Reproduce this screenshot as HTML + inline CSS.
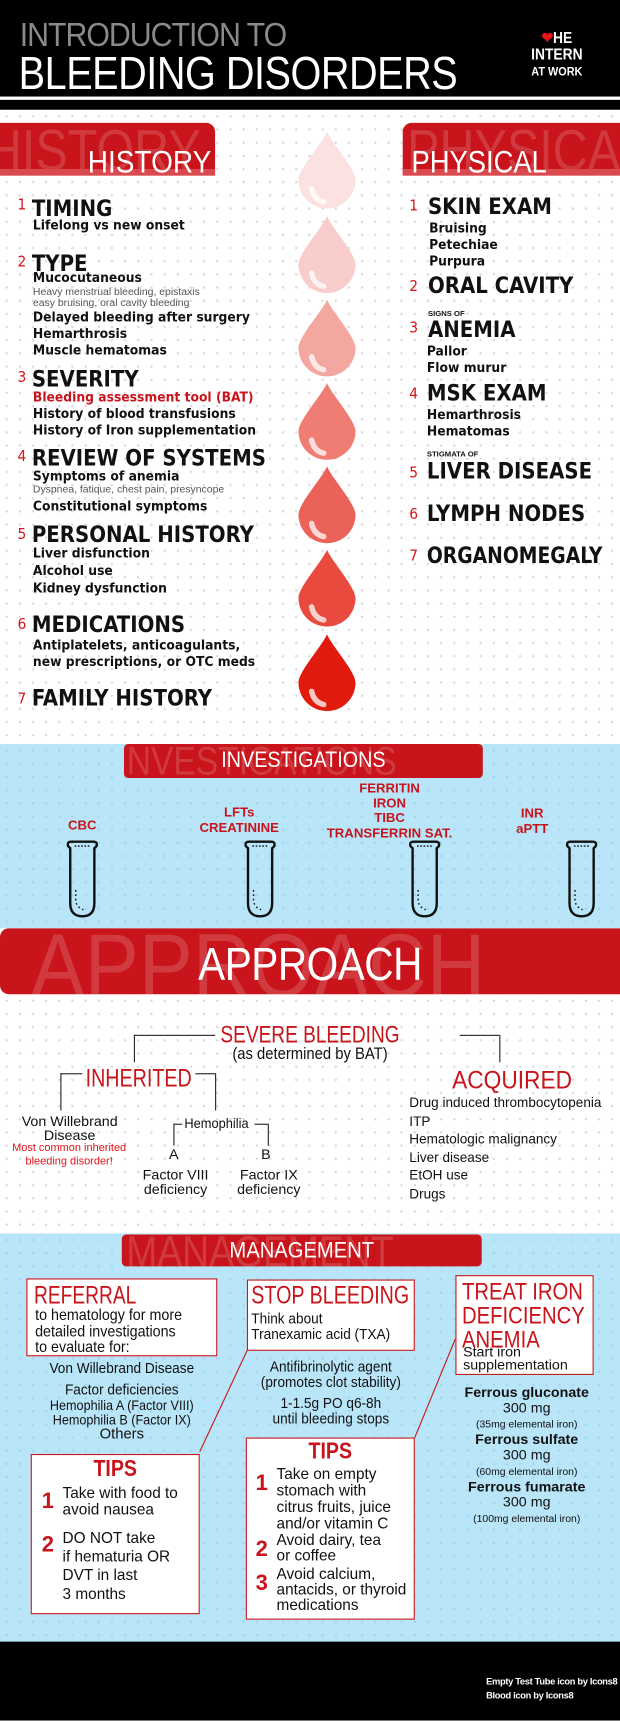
<!DOCTYPE html>
<html><head><meta charset="utf-8">
<style>
html,body{margin:0;padding:0;width:620px;height:1720px;overflow:hidden;background:#fff}
#w{position:absolute;left:0;top:0;width:565px;height:1568px;transform:scale(1.09735);transform-origin:0 0;overflow:hidden;font-family:"Liberation Sans Narrow","Liberation Sans",sans-serif}
.t{position:absolute;white-space:nowrap;line-height:1}
.h{font-family:"DejaVu Sans Condensed","DejaVu Sans",sans-serif;font-weight:bold;color:#111}
.s{font-family:"DejaVu Sans Condensed","DejaVu Sans",sans-serif;font-weight:bold;color:#111;font-size:12.5px}
.n{color:#d7141a;font-family:"DejaVu Sans Condensed","DejaVu Sans",sans-serif;font-size:14px}
.red{color:#c8141a}
.box{position:absolute;background:#fff;border:1.5px solid #c8141a;box-sizing:border-box}
.ln{position:absolute;background:#222}
.dots{position:absolute;background-image:radial-gradient(circle,#dcdcdc 1px,transparent 1.3px);background-size:12px 12px}
.bdots{position:absolute;background:#b9e5f8;background-image:radial-gradient(circle,#a3d6ee 1px,transparent 1.3px);background-size:12px 12px}
.tab{position:absolute;background:#c8141a;overflow:hidden}
.ghost{position:absolute;color:rgba(255,255,255,.16);white-space:nowrap;line-height:1}
</style></head><body><div id="w">
<!-- header -->
<div style="position:absolute;left:0;top:0;width:565px;height:100px;background:#000"></div>
<div style="position:absolute;left:0;top:88px;width:565px;height:2.5px;background:#fff"></div>
<div class="t" style="left:18px;top:18px;font-size:30px;color:#8a8a8a;letter-spacing:-1px;transform:scaleX(.92);transform-origin:0 0">INTRODUCTION TO</div>
<div class="t" style="left:17px;top:46px;font-size:42px;color:#fff;letter-spacing:-0.5px;transform:scaleX(.86);transform-origin:0 0">BLEEDING DISORDERS</div>
<div class="t" style="left:484px;top:27px;font-size:14px;color:#fff;font-weight:bold;line-height:15px;text-align:center;transform:scaleX(.9);transform-origin:0 0">
<span style="color:#e8121a">&#10084;</span>HE<br>INTERN<br><span style="font-size:11px">AT WORK</span></div>

<div class="dots" style="left:0;top:100px;width:565px;height:578px"></div>
<!-- history/physical tabs -->
<div class="tab" style="left:0;top:112px;width:196px;height:48px;border-radius:0 8px 0 0">
<div class="ghost" style="left:-12px;top:0;font-size:52px;transform:scaleX(.85);transform-origin:0 0">HISTORY</div>
<div style="position:absolute;left:0;bottom:0;width:100%;height:6px;background:#d9494d"></div>
<div class="t" style="left:80px;top:22px;font-size:29px;color:#fff;transform:scaleX(.88);transform-origin:0 0">HISTORY</div></div>
<div class="tab" style="left:367px;top:112px;width:210px;height:48px;border-radius:8px 0 0 0">
<div class="ghost" style="left:4px;top:0;font-size:52px;transform:scaleX(.85);transform-origin:0 0">PHYSICAL</div>
<div style="position:absolute;left:0;bottom:0;width:100%;height:6px;background:#d9494d"></div>
<div class="t" style="left:8px;top:22px;font-size:29px;color:#fff;transform:scaleX(.86);transform-origin:0 0">PHYSICAL</div></div>

<!-- drops -->
<svg style="position:absolute;left:272px;top:120px" width="52" height="540" viewBox="0 0 52 540">
<defs><path id="d" d="M26 0 C22 10 0 34 0 44 A26 26 0 0 0 52 44 C52 34 30 10 26 0Z"/>
<path id="hl" d="M12 52 Q14 62 23 64" fill="none" stroke="#fff" stroke-width="5" stroke-linecap="round" opacity=".75"/></defs>
<g><use href="#d" fill="#fbe1e0"/><use href="#hl"/></g>
<g transform="translate(0,77)"><use href="#d" fill="#f8cdcb"/><use href="#hl"/></g>
<g transform="translate(0,153)"><use href="#d" fill="#f4a6a1"/><use href="#hl"/></g>
<g transform="translate(0,229)"><use href="#d" fill="#f07d74"/><use href="#hl"/></g>
<g transform="translate(0,305)"><use href="#d" fill="#eb6259"/><use href="#hl"/></g>
<g transform="translate(0,381)"><use href="#d" fill="#e84a3e"/><use href="#hl"/></g>
<g transform="translate(0,458)"><use href="#d" fill="#e01a0c"/><use href="#hl"/></g>
</svg>

<!-- history list -->
<div class="t n" style="left:16px;top:180px">1</div><div class="t h" style="left:29px;top:180px;font-size:20px">TIMING</div>
<div class="t s" style="left:30px;top:199px">Lifelong vs new onset</div>
<div class="t n" style="left:16px;top:232px">2</div><div class="t h" style="left:29px;top:230px;font-size:20px">TYPE</div>
<div class="t s" style="left:30px;top:247px">Mucocutaneous</div>
<div class="t" style="left:30px;top:262px;font-size:9.5px;color:#555;line-height:10px">Heavy menstrual bleeding, epistaxis<br>easy bruising, oral cavity bleeding</div>
<div class="t s" style="left:30px;top:283px">Delayed bleeding after surgery</div>
<div class="t s" style="left:30px;top:298px">Hemarthrosis</div>
<div class="t s" style="left:30px;top:313px">Muscle hematomas</div>
<div class="t n" style="left:16px;top:337px">3</div><div class="t h" style="left:29px;top:335px;font-size:20px">SEVERITY</div>
<div class="t s" style="left:30px;top:356px;color:#c8141a">Bleeding assessment tool (BAT)</div>
<div class="t s" style="left:30px;top:371px">History of blood transfusions</div>
<div class="t s" style="left:30px;top:386px">History of Iron supplementation</div>
<div class="t n" style="left:16px;top:409px">4</div><div class="t h" style="left:29px;top:407px;font-size:20px">REVIEW OF SYSTEMS</div>
<div class="t s" style="left:30px;top:428px">Symptoms of anemia</div>
<div class="t" style="left:30px;top:442px;font-size:9.5px;color:#555">Dyspnea, fatique, chest pain, presyncope</div>
<div class="t s" style="left:30px;top:455px">Constitutional symptoms</div>
<div class="t n" style="left:16px;top:480px">5</div><div class="t h" style="left:29px;top:477px;font-size:20px">PERSONAL HISTORY</div>
<div class="t s" style="left:30px;top:498px">Liver disfunction</div>
<div class="t s" style="left:30px;top:514px">Alcohol use</div>
<div class="t s" style="left:30px;top:530px">Kidney dysfunction</div>
<div class="t n" style="left:16px;top:562px">6</div><div class="t h" style="left:29px;top:559px;font-size:20px">MEDICATIONS</div>
<div class="t s" style="left:30px;top:580px;line-height:15px">Antiplatelets, anticoagulants,<br>new prescriptions, or OTC meds</div>
<div class="t n" style="left:16px;top:630px">7</div><div class="t h" style="left:29px;top:626px;font-size:20px">FAMILY HISTORY</div>

<!-- physical list -->
<div class="t n" style="left:373px;top:181px">1</div><div class="t h" style="left:390px;top:178px;font-size:20px">SKIN EXAM</div>
<div class="t s" style="left:391px;top:200px;line-height:15px">Bruising<br>Petechiae<br>Purpura</div>
<div class="t n" style="left:373px;top:254px">2</div><div class="t h" style="left:390px;top:250px;font-size:20px">ORAL CAVITY</div>
<div class="t" style="left:390px;top:283px;font-size:7px;font-weight:bold;color:#111">SIGNS OF</div>
<div class="t n" style="left:373px;top:292px">3</div><div class="t h" style="left:390px;top:290px;font-size:20px">ANEMIA</div>
<div class="t s" style="left:389px;top:312px;line-height:15px">Pallor<br>Flow murur</div>
<div class="t n" style="left:373px;top:352px">4</div><div class="t h" style="left:389px;top:348px;font-size:20px">MSK EXAM</div>
<div class="t s" style="left:389px;top:370px;line-height:15px">Hemarthrosis<br>Hematomas</div>
<div class="t" style="left:389px;top:411px;font-size:7px;font-weight:bold;color:#111">STIGMATA OF</div>
<div class="t n" style="left:373px;top:424px">5</div><div class="t h" style="left:389px;top:419px;font-size:20px">LIVER DISEASE</div>
<div class="t n" style="left:373px;top:462px">6</div><div class="t h" style="left:389px;top:458px;font-size:20px">LYMPH NODES</div>
<div class="t n" style="left:373px;top:500px">7</div><div class="t h" style="left:389px;top:496px;font-size:20px;transform:scaleX(.95);transform-origin:0 0">ORGANOMEGALY</div>

<!-- investigations -->
<div class="bdots" style="left:0;top:678px;width:565px;height:168px"></div>
<div class="tab" style="left:113px;top:678px;width:327px;height:31px;border-radius:4px">
<div class="ghost" style="left:-6px;top:-2px;font-size:36px;transform:scaleX(.85);transform-origin:0 0">INVESTIGATIONS</div>
<div class="t" style="left:0;width:327px;text-align:center;top:5px;font-size:20px;color:#fff;transform:scaleX(.9)">INVESTIGATIONS</div></div>
<div class="t red" style="left:55px;top:746px;width:40px;text-align:center;font-weight:bold;font-size:12px">CBC</div>
<div class="t red" style="left:178px;top:733px;width:80px;text-align:center;font-weight:bold;font-size:12px;line-height:14px">LFTs<br>CREATININE</div>
<div class="t red" style="left:290px;top:712px;width:130px;text-align:center;font-weight:bold;font-size:12px;line-height:13.5px">FERRITIN<br>IRON<br>TIBC<br>TRANSFERRIN SAT.</div>
<div class="t red" style="left:455px;top:734px;width:60px;text-align:center;font-weight:bold;font-size:12px;line-height:14px">INR<br>aPTT</div>
<svg style="position:absolute;left:0;top:765px" width="565" height="80">
<defs><g id="tube" fill="none" stroke="#111" stroke-width="2.2"><path d="M1 6 Q0 2 4 2 L24 2 Q28 2 27 6 L25 8 L25 58 Q25 70 14 70 Q3 70 3 58 L3 8Z"/><path d="M8 46 L8 56 Q9 62 15 64" stroke-dasharray="1.5 2.5" stroke-width="1.3"/><path d="M7 6 L21 6" stroke-dasharray="1.5 1.5" stroke-width="1.3"/></g></defs>
<use href="#tube" x="61" y="0"/><use href="#tube" x="223" y="0"/><use href="#tube" x="373" y="0"/><use href="#tube" x="516" y="0"/></svg>

<!-- approach -->
<div class="tab" style="left:0;top:846px;width:565px;height:60px;border-radius:8px 0 0 8px">
<div class="ghost" style="left:28px;top:-6px;font-size:82px;color:rgba(255,255,255,.17);transform:scaleX(.9);transform-origin:0 0">APPROACH</div>
<div class="t" style="left:0;width:565px;text-align:center;top:12px;font-size:42px;color:#fff;letter-spacing:-0.5px;transform:scaleX(.88)">APPROACH</div></div>
<div class="dots" style="left:0;top:906px;width:565px;height:218px"></div>
<div class="t red" style="left:150px;width:265px;text-align:center;top:932px;font-size:22px;transform:scaleX(.79)">SEVERE BLEEDING</div>
<div class="t" style="left:150px;width:265px;text-align:center;top:953px;font-size:15px;color:#111;transform:scaleX(.9)">(as determined by BAT)</div>
<div class="ln" style="left:122px;top:943px;width:74px;height:1px"></div>
<div class="ln" style="left:122px;top:943px;width:1px;height:25px"></div>
<div class="ln" style="left:419px;top:943px;width:36px;height:1px"></div>
<div class="ln" style="left:455px;top:943px;width:1px;height:25px"></div>
<div class="t red" style="left:78px;top:971px;font-size:23px;transform:scaleX(.78);transform-origin:0 0">INHERITED</div>
<div class="ln" style="left:55px;top:978px;width:20px;height:1px"></div>
<div class="ln" style="left:55px;top:978px;width:1px;height:34px"></div>
<div class="ln" style="left:178px;top:978px;width:18px;height:1px"></div>
<div class="ln" style="left:196px;top:978px;width:1px;height:34px"></div>
<div class="t red" style="left:412px;top:973px;font-size:23px;transform:scaleX(.9);transform-origin:0 0">ACQUIRED</div>
<div class="t" style="left:16px;width:95px;text-align:center;top:1015px;font-size:13px;line-height:13px;color:#111">Von Willebrand<br>Disease</div>
<div class="t red" style="left:8px;width:110px;text-align:center;top:1041px;font-size:10px;line-height:12px;color:#e0141a">Most common inherited<br>bleeding disorder!</div>
<div class="t" style="left:168px;top:1017px;font-size:13px;color:#111;transform:scaleX(.9);transform-origin:0 0">Hemophilia</div>
<div class="ln" style="left:158px;top:1024px;width:8px;height:1px"></div>
<div class="ln" style="left:158px;top:1024px;width:1px;height:20px"></div>
<div class="ln" style="left:232px;top:1024px;width:12px;height:1px"></div>
<div class="ln" style="left:244px;top:1024px;width:1px;height:20px"></div>
<div class="t" style="left:154px;top:1045px;font-size:13px;color:#111">A</div>
<div class="t" style="left:238px;top:1045px;font-size:13px;color:#111">B</div>
<div class="t" style="left:120px;width:80px;text-align:center;top:1064px;font-size:13px;line-height:13px;color:#111">Factor VIII<br>deficiency</div>
<div class="t" style="left:205px;width:80px;text-align:center;top:1064px;font-size:13px;line-height:13px;color:#111">Factor IX<br>deficiency</div>
<div class="t" style="left:373px;top:997px;font-size:13px;line-height:16.5px;color:#111;transform:scaleX(.95);transform-origin:0 0">Drug induced thrombocytopenia<br>ITP<br>Hematologic malignancy<br>Liver disease<br>EtOH use<br>Drugs</div>

<!-- management -->
<div class="bdots" style="left:0;top:1124px;width:565px;height:372px"></div>
<div class="tab" style="left:111px;top:1125px;width:328px;height:29px;border-radius:4px">
<div class="ghost" style="left:4px;top:-4px;font-size:40px;transform:scaleX(.85);transform-origin:0 0">MANAGEMENT</div>
<div class="t" style="left:0;width:328px;text-align:center;top:5px;font-size:20px;color:#fff;transform:scaleX(.92)">MANAGEMENT</div></div>
<svg style="position:absolute;left:0;top:1150px" width="565" height="200"><line x1="182" y1="173" x2="226" y2="79" stroke="#c8141a" stroke-width="1"/><line x1="378" y1="160" x2="415" y2="70" stroke="#c8141a" stroke-width="1"/></svg>
<div class="box" style="left:24px;top:1165px;width:174px;height:71px"></div>
<div class="t red" style="left:31px;top:1169px;font-size:23px;transform:scaleX(.76);transform-origin:0 0">REFERRAL</div>
<div class="t" style="left:32px;top:1191px;font-size:14px;line-height:14.5px;color:#111;transform:scaleX(.93);transform-origin:0 0">to hematology for more<br>detailed investigations<br>to evaluate for:</div>
<div class="t" style="left:24px;width:174px;text-align:center;top:1240px;font-size:13.5px;color:#111;transform:scaleX(.92)">Von Willebrand Disease</div>
<div class="t" style="left:24px;width:174px;text-align:center;top:1260px;font-size:13.5px;color:#111;transform:scaleX(.92)">Factor deficiencies</div>
<div class="t" style="left:24px;width:174px;text-align:center;top:1275px;font-size:12.5px;line-height:12.5px;color:#111;transform:scaleX(.92)">Hemophilia A (Factor VIII)<br>Hemophilia B (Factor IX)</div>
<div class="t" style="left:24px;width:174px;text-align:center;top:1300px;font-size:13.5px;color:#111">Others</div>
<div class="box" style="left:28px;top:1325px;width:154px;height:146px"></div>
<div class="t red" style="left:28px;width:154px;text-align:center;top:1328px;font-size:21px;font-weight:bold;transform:scaleX(.85)">TIPS</div>
<div class="t red" style="left:38px;top:1358px;font-size:20px;font-weight:bold">1</div>
<div class="t" style="left:57px;top:1353px;font-size:14px;line-height:15px;color:#111">Take with food to<br>avoid nausea</div>
<div class="t red" style="left:38px;top:1398px;font-size:20px;font-weight:bold">2</div>
<div class="t" style="left:57px;top:1393px;font-size:14px;line-height:17px;color:#111">DO NOT take<br>if hematuria OR<br>DVT in last<br>3 months</div>

<div class="box" style="left:225px;top:1166px;width:153px;height:65px"></div>
<div class="t red" style="left:229px;top:1169px;font-size:23px;transform:scaleX(.78);transform-origin:0 0">STOP BLEEDING</div>
<div class="t" style="left:229px;top:1195px;font-size:13.5px;line-height:14px;color:#111;transform:scaleX(.92);transform-origin:0 0">Think about<br>Tranexamic acid (TXA)</div>
<div class="t" style="left:225px;width:153px;text-align:center;top:1239px;font-size:13.5px;line-height:14px;color:#111;transform:scaleX(.92)">Antifibrinolytic agent<br>(promotes clot stability)</div>
<div class="t" style="left:225px;width:153px;text-align:center;top:1272px;font-size:13.5px;line-height:14px;color:#111;transform:scaleX(.92)">1-1.5g PO q6-8h<br>until bleeding stops</div>
<div class="box" style="left:224px;top:1310px;width:154px;height:166px"></div>
<div class="t red" style="left:224px;width:154px;text-align:center;top:1312px;font-size:21px;font-weight:bold;transform:scaleX(.85)">TIPS</div>
<div class="t red" style="left:233px;top:1342px;font-size:20px;font-weight:bold">1</div>
<div class="t" style="left:252px;top:1336px;font-size:14px;line-height:15px;color:#111">Take on empty<br>stomach with<br>citrus fruits, juice<br>and/or vitamin C</div>
<div class="t red" style="left:233px;top:1402px;font-size:20px;font-weight:bold">2</div>
<div class="t" style="left:252px;top:1396px;font-size:14px;line-height:14px;color:#111">Avoid dairy, tea<br>or coffee</div>
<div class="t red" style="left:233px;top:1433px;font-size:20px;font-weight:bold">3</div>
<div class="t" style="left:252px;top:1427px;font-size:14px;line-height:14px;color:#111">Avoid calcium,<br>antacids, or thyroid<br>medications</div>

<div class="box" style="left:415px;top:1162px;width:126px;height:91px"></div>
<div class="t red" style="left:421px;top:1166px;font-size:22px;line-height:22px;transform:scaleX(.84);transform-origin:0 0">TREAT IRON<br>DEFICIENCY<br>ANEMIA</div>
<div class="t" style="left:422px;top:1226px;font-size:13px;line-height:12px;color:#111">Start iron<br>supplementation</div>
<div class="t" style="left:410px;width:140px;text-align:center;top:1262px;font-size:13px;line-height:14px;color:#111"><b>Ferrous gluconate</b><br>300 mg<br><span style="font-size:9.5px">(35mg elemental iron)</span></div>
<div class="t" style="left:410px;width:140px;text-align:center;top:1305px;font-size:13px;line-height:14px;color:#111"><b>Ferrous sulfate</b><br>300 mg<br><span style="font-size:9.5px">(60mg elemental iron)</span></div>
<div class="t" style="left:410px;width:140px;text-align:center;top:1348px;font-size:13px;line-height:14px;color:#111"><b>Ferrous fumarate</b><br>300 mg<br><span style="font-size:9.5px">(100mg elemental iron)</span></div>

<!-- footer -->
<div style="position:absolute;left:0;top:1496px;width:565px;height:72px;background:#000"></div>
<div class="t" style="left:443px;top:1526px;font-size:8.5px;line-height:13px;color:#fff;font-weight:bold;letter-spacing:-0.3px">Empty Test Tube icon by Icons8<br>Blood icon by Icons8</div>
</div></body></html>
